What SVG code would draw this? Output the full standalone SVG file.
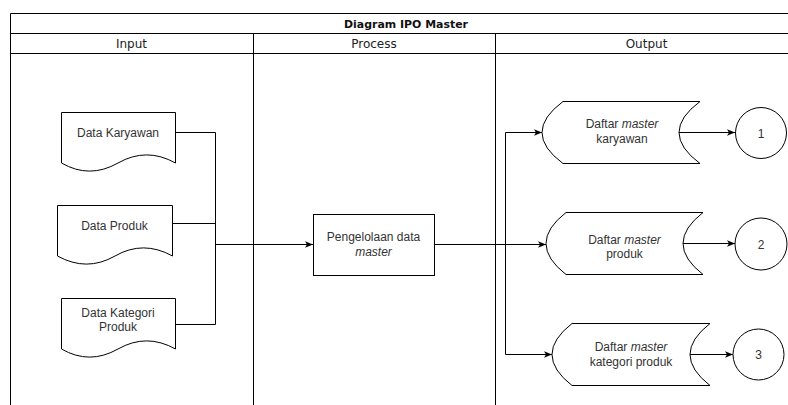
<svg xmlns="http://www.w3.org/2000/svg" width="788" height="405" viewBox="0 0 788 405">
  <style>
    .lane { fill: none; stroke: #000; stroke-width: 1; }
    .shape { fill: #fff; stroke: #000; stroke-width: 1; }
    .wire { fill: none; stroke: #000; stroke-width: 1; }
    .title { font-family: "DejaVu Sans", Verdana, sans-serif; font-size: 11px; font-weight: bold; fill: #111; }
    .head { font-family: "DejaVu Sans", Verdana, sans-serif; font-size: 12px; fill: #222; }
    .lbl { font-family: "Liberation Sans", Arial, sans-serif; font-size: 12px; fill: #333; text-anchor: middle; }
    .it { font-style: italic; }
  </style>
  <defs>
    <marker id="arrow" viewBox="0 0 10 10" refX="10" refY="5" markerWidth="8" markerHeight="8" markerUnits="userSpaceOnUse" orient="auto">
      <path d="M0,1 L10,5 L0,9 L2.5,5 Z" fill="#000"/>
    </marker>
  </defs>

  <rect width="788" height="405" fill="#fff"/>

  <!-- swimlane frame -->
  <g id="pool">
    <path class="lane" d="M10.5,420 V13.5 H800 M10.5,33.5 H800 M10.5,53.5 H800 M253.5,33.5 V420 M495.5,33.5 V420"/>
    <text class="title" x="406" y="28" text-anchor="middle" textLength="124" lengthAdjust="spacingAndGlyphs">Diagram IPO Master</text>
    <text class="head" x="131.5" y="47.5" text-anchor="middle">Input</text>
    <text class="head" x="374" y="47.5" text-anchor="middle">Process</text>
    <text class="head" x="646.5" y="47.5" text-anchor="middle">Output</text>
  </g>

  <!-- connectors -->
  <g id="connectors">
    <path class="wire" d="M175,132.5 H215.5 M172,223.5 H215.5 M175,324.5 H215.5 M215.5,132.5 V324.5"/>
    <path class="wire" d="M215.5,244.5 H313" marker-end="url(#arrow)"/>
    <path class="wire" d="M434,244.5 H546" marker-end="url(#arrow)"/>
    <path class="wire" d="M505.5,132.5 V354.5"/>
    <path class="wire" d="M505.5,132.5 H542" marker-end="url(#arrow)"/>
    <path class="wire" d="M505.5,354.5 H552" marker-end="url(#arrow)"/>
    <path class="wire" d="M679,132.5 H735" marker-end="url(#arrow)"/>
    <path class="wire" d="M683,243.5 H735" marker-end="url(#arrow)"/>
    <path class="wire" d="M690,354.5 H733" marker-end="url(#arrow)"/>
  </g>

  <!-- inputs -->
  <g id="data-karyawan">
    <path class="shape" d="M61.5,112.5 H175.5 V163 Q146.5,146.8 118,163 T61.5,163 Z"/>
    <text class="lbl" x="118" y="136.5">Data Karyawan</text>
  </g>
  <g id="data-produk">
    <path class="shape" d="M57.5,205.5 H172.5 V256 Q143.3,239.8 115,256 T57.5,256 Z"/>
    <text class="lbl" x="114.5" y="230">Data Produk</text>
  </g>
  <g id="data-kategori-produk">
    <path class="shape" d="M61.5,298.5 H175.5 V349 Q146.5,332.8 118,349 T61.5,349 Z"/>
    <text class="lbl" x="118" y="317">Data Kategori</text>
    <text class="lbl" x="118" y="331">Produk</text>
  </g>

  <!-- process -->
  <g id="pengelolaan-data-master">
    <rect class="shape" x="313.5" y="214.5" width="121" height="61"/>
    <text class="lbl" x="373.5" y="241">Pengelolaan data</text>
    <text class="lbl it" x="373.5" y="255.5">master</text>
  </g>

  <!-- outputs -->
  <g id="daftar-master-karyawan">
    <path class="shape" d="M563,101.5 H700 Q658,132.5 700,163.5 H563 Q521,132.5 563,101.5 Z"/>
    <text class="lbl" x="622" y="128">Daftar <tspan class="it">master</tspan></text>
    <text class="lbl" x="622" y="142.5">karyawan</text>
  </g>
  <g id="daftar-master-produk">
    <path class="shape" d="M566,212.5 H703 Q663,243.5 703,274.5 H566 Q526,243.5 566,212.5 Z"/>
    <text class="lbl" x="624.5" y="244">Daftar <tspan class="it">master</tspan></text>
    <text class="lbl" x="624.5" y="258">produk</text>
  </g>
  <g id="daftar-master-kategori-produk">
    <path class="shape" d="M572,323.5 H710 Q670,354.5 710,385.5 H572 Q532,354.5 572,323.5 Z"/>
    <text class="lbl" x="631" y="351">Daftar <tspan class="it">master</tspan></text>
    <text class="lbl" x="631" y="365.5">kategori produk</text>
  </g>

  <!-- off-page references -->
  <g id="ref-1">
    <circle class="shape" cx="761" cy="133" r="25.5"/>
    <text class="lbl" x="761" y="137.5">1</text>
  </g>
  <g id="ref-2">
    <circle class="shape" cx="761" cy="244" r="26"/>
    <text class="lbl" x="761" y="248.5">2</text>
  </g>
  <g id="ref-3">
    <circle class="shape" cx="758.5" cy="354.5" r="25.5"/>
    <text class="lbl" x="758.5" y="359">3</text>
  </g>
</svg>
